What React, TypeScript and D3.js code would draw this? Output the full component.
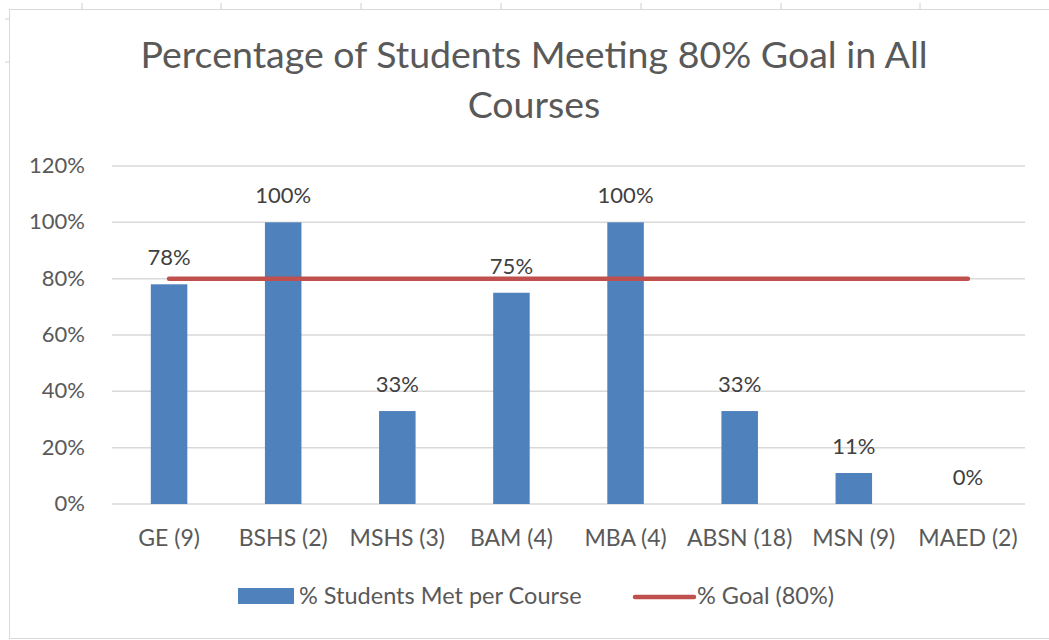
import React from "react";
import * as d3 from "d3";

const categories = ["GE (9)", "BSHS (2)", "MSHS (3)", "BAM (4)", "MBA (4)", "ABSN (18)", "MSN (9)", "MAED (2)"];
const metValues = [78, 100, 33, 75, 100, 33, 11, 0];
const goalValues = [80, 80, 80, 80, 80, 80, 80, 80];
const yTicks = [0, 20, 40, 60, 80, 100, 120];
const titleLines = ["Percentage of Students Meeting 80% Goal in All", "Courses"];
const legendLabels = ["% Students Met per Course", "% Goal (80%)"];

const W = 1049;
const H = 640;
const FONT = "Lato, 'Open Sans', sans-serif";
const TEXT = "#595959";
const BLUE = "#4F81BD";
const RED = "#C0504D";

export default function App() {
  const x = d3.scaleBand().domain(categories).range([112, 1025]).paddingInner(0.68).paddingOuter(0.34);
  const xc = (c: string) => (x(c) ?? 0) + x.bandwidth() / 2;
  const y = d3.scaleLinear().domain([0, 120]).range([504, 166]);

  const goalLine = d3
    .line<number>()
    .x((_, i) => xc(categories[i]))
    .y(d => y(d));

  return (
    <svg
      width={W}
      height={H}
      style={{ position: "absolute", left: 0, top: 0, background: "#fff" }}
      fontFamily={FONT}
    >
      {/* spreadsheet cell marks behind the chart */}
      {[82, 221, 361, 501, 641, 781, 920].map(gx => (
        <line key={gx} x1={gx} x2={gx} y1={3} y2={9} stroke="#d0d0d0" />
      ))}
      {[19, 62].map(gy => (
        <line key={gy} x1={5} x2={9} y1={gy} y2={gy} stroke="#d0d0d0" />
      ))}
      <rect x={9.5} y={9.5} width={1060} height={629} fill="#fff" stroke="#d9d9d9" />

      {/* title */}
      {titleLines.map((t, i) => (
        <text key={t} x={534} y={68 + i * 50} textAnchor="middle" fontSize={37.5} fill={TEXT}>
          {t}
        </text>
      ))}

      {/* gridlines + y ticks */}
      {yTicks.map(t => (
        <g key={t}>
          <line x1={112} x2={1025} y1={y(t)} y2={y(t)} stroke="#d9d9d9" strokeWidth={1.5} />
          <text x={85} y={y(t) + 7} textAnchor="end" fontSize={22} fill={TEXT}>
            {t}%
          </text>
        </g>
      ))}

      {/* bars */}
      {metValues.map((v, i) => (
        <rect
          key={categories[i]}
          x={x(categories[i])}
          y={y(v)}
          width={x.bandwidth()}
          height={y(0) - y(v)}
          fill={BLUE}
        />
      ))}

      {/* goal line */}
      <path d={goalLine(goalValues) ?? ""} fill="none" stroke={RED} strokeWidth={4.5} strokeLinecap="round" />

      {/* data labels */}
      {metValues.map((v, i) => (
        <text key={categories[i]} x={xc(categories[i])} y={y(v) - 19} textAnchor="middle" fontSize={22} fill="#404040">
          {v}%
        </text>
      ))}

      {/* x labels */}
      {categories.map(c => (
        <text key={c} x={xc(c)} y={546} textAnchor="middle" fontSize={23} fill={TEXT}>
          {c}
        </text>
      ))}

      {/* legend */}
      <rect x={238} y={588} width={56} height={16} fill={BLUE} />
      <text x={299} y={604} fontSize={23.5} fill={TEXT}>
        {legendLabels[0]}
      </text>
      <line x1={635} x2={694} y1={597} y2={597} stroke={RED} strokeWidth={4.5} strokeLinecap="round" />
      <text x={697} y={604} fontSize={23.5} fill={TEXT}>
        {legendLabels[1]}
      </text>
    </svg>
  );
}
